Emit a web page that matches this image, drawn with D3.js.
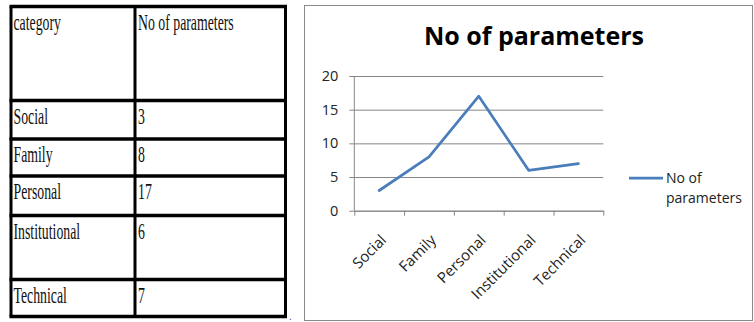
<!DOCTYPE html>
<html>
<head>
<meta charset="utf-8">
<script src="https://cdn.jsdelivr.net/npm/d3@7"></script>
<style>
  body { margin: 0; background: #fff; }
  svg { display: block; }
</style>
</head>
<body>
<div id="area1"></div>
<script>
// data
var categories = ["Social", "Family", "Personal", "Institutional", "Technical"];
var values = [3, 8, 17, 6, 7];
var seriesName = "No of parameters";
var headers = ["category", "No of parameters"];
var yTicks = [0, 5, 10, 15, 20];

var svgWidth = 754, svgHeight = 322;

var svg = d3.select("#area1")
  .append("svg")
  .attr("width", svgWidth)
  .attr("height", svgHeight);

//---------- left table ----------
var tableLeft = 11, tableRight = 285.5, colX = 135;
var rowEdges = [6.5, 100.5, 139, 176, 215.5, 279.5, 316.5]; // header + 5 rows
var table = svg.append("g").attr("class", "table");

// horizontal rules
table.selectAll("line.h")
  .data(rowEdges)
  .enter()
  .append("line")
  .attr("class", "h")
  .attr("x1", tableLeft - 1.5)
  .attr("x2", tableRight + 1.5)
  .attr("y1", function(d){ return d; })
  .attr("y2", function(d){ return d; })
  .attr("stroke", "#000")
  .attr("stroke-width", 3.5);

// vertical rules
table.selectAll("line.v")
  .data([tableLeft, colX, tableRight])
  .enter()
  .append("line")
  .attr("class", "v")
  .attr("x1", function(d){ return d; })
  .attr("x2", function(d){ return d; })
  .attr("y1", rowEdges[0])
  .attr("y2", rowEdges[rowEdges.length - 1])
  .attr("stroke", "#000")
  .attr("stroke-width", 3);

var rows = [headers].concat(categories.map(function(c, i){ return [c, String(values[i])]; }));

function cellText(x, y, s){
  table.append("text")
    .attr("transform", "translate(" + x + "," + y + ") scale(0.6,1)")
    .style("font-family", "'Liberation Serif', 'DejaVu Serif', serif")
    .style("font-size", "23px")
    .attr("fill", "#111")
    .text(s);
}
rows.forEach(function(r, i){
  var base = rowEdges[i] + 23;
  cellText(13.5, base, r[0]);
  cellText(138, base, r[1]);
});

svg.append("text")
  .attr("x", 289)
  .attr("y", 320)
  .style("font-family", "'Liberation Sans', sans-serif")
  .style("font-size", "10px")
  .attr("fill", "#2a4f8a")
  .text(".");

//---------- chart ----------
svg.append("rect")
  .attr("x", 304.5)
  .attr("y", 5.5)
  .attr("width", 448)
  .attr("height", 315)
  .attr("fill", "#fff")
  .attr("stroke", "#8a8a8a")
  .attr("stroke-width", 1);

var plot = {left: 354.3, right: 603.3, top: 76, bottom: 210.7};
var fontChart = "'Open Sans', 'Liberation Sans', sans-serif";
var gridColor = "#868686";

var xScale = d3.scaleBand()
  .domain(categories)
  .range([plot.left, plot.right])
  .padding(0);

var yScale = d3.scaleLinear()
  .domain([0, 20])
  .range([plot.bottom, plot.top]);

// title
svg.append("text")
  .attr("x", 534)
  .attr("y", 45)
  .style("text-anchor", "middle")
  .style("font-family", fontChart)
  .style("font-weight", "bold")
  .style("font-size", "25px")
  .attr("fill", "#000")
  .text(seriesName);

// y axis with gridlines
var yAxis = d3.axisLeft(yScale)
  .tickValues(yTicks)
  .tickSizeInner(-(plot.right - plot.left + 5))
  .tickSizeOuter(0)
  .tickPadding(11);

var gy = svg.append("g")
  .attr("transform", "translate(" + (plot.left - 5) + ",0)")
  .call(yAxis);
gy.select(".domain").remove();
gy.selectAll("line").attr("stroke", gridColor);
gy.selectAll("text")
  .style("font-family", fontChart)
  .style("font-size", "14.5px")
  .attr("fill", "#222");

// vertical axis line
svg.append("line")
  .attr("x1", plot.left).attr("x2", plot.left)
  .attr("y1", plot.top).attr("y2", plot.bottom)
  .attr("stroke", gridColor);

// x axis: ticks between categories
var xEdge = d3.scaleLinear()
  .domain([0, categories.length])
  .range([plot.left, plot.right]);
var xAxis = d3.axisBottom(xEdge)
  .ticks(categories.length)
  .tickSizeInner(5)
  .tickSizeOuter(0)
  .tickFormat("");
var gx = svg.append("g")
  .attr("transform", "translate(0," + plot.bottom + ")")
  .call(xAxis);
gx.selectAll("line, path").attr("stroke", gridColor);

// rotated category labels
svg.selectAll("text.cat")
  .data(categories)
  .enter()
  .append("text")
  .attr("class", "cat")
  .attr("transform", function(d){
    return "translate(" + (xScale(d) + xScale.bandwidth() / 2 + 8) + ",241) rotate(-45)";
  })
  .style("text-anchor", "end")
  .style("font-family", fontChart)
  .style("font-size", "15px")
  .attr("fill", "#222")
  .text(function(d){ return d; });

// the line
var line = d3.line()
  .x(function(d, i){ return xScale(categories[i]) + xScale.bandwidth() / 2; })
  .y(function(d){ return yScale(d); });

svg.append("path")
  .datum(values)
  .attr("d", line)
  .attr("fill", "none")
  .attr("stroke", "#4a7ebb")
  .attr("stroke-width", 2.75)
  .attr("stroke-linejoin", "round")
  .attr("stroke-linecap", "round");

// legend
svg.append("line")
  .attr("x1", 629).attr("x2", 663)
  .attr("y1", 178).attr("y2", 178)
  .attr("stroke", "#4a7ebb")
  .attr("stroke-width", 2.75);

var leg = svg.append("text")
  .attr("x", 666)
  .attr("y", 183)
  .style("font-family", fontChart)
  .style("font-size", "14px")
  .attr("fill", "#222");
leg.append("tspan").attr("x", 666).text("No of");
leg.append("tspan").attr("x", 666).attr("dy", 20).text("parameters");
</script>
</body>
</html>
